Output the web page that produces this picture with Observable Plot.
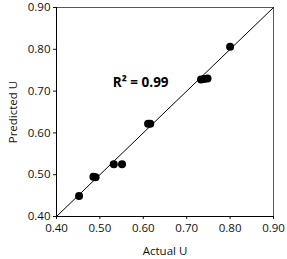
<!DOCTYPE html>
<html><head><meta charset="utf-8">
<script src="https://cdn.jsdelivr.net/npm/d3@7"></script>
<script src="https://cdn.jsdelivr.net/npm/@observablehq/plot@0.6"></script>
<style>body{margin:0;background:#fff;} svg{display:block;}</style>
</head><body><div id="chart"></div>
<script>
const actual =    [0.452, 0.485, 0.490, 0.532, 0.551, 0.611, 0.616, 0.733, 0.740, 0.748, 0.800];
const predicted = [0.449, 0.495, 0.494, 0.525, 0.525, 0.622, 0.622, 0.728, 0.729, 0.730, 0.806];
const ticks = [0.40, 0.50, 0.60, 0.70, 0.80, 0.90];
const lineEnds = [0.40, 0.90];
const annotation = "R² = 0.99";
const annX = 0.594, annY = 0.719;

const pts = actual.map((a, i) => ({a, p: predicted[i]}));
const font = "Open Sans, sans-serif";
const chart = Plot.plot({
  width: 287, height: 259,
  marginLeft: 56, marginRight: 14, marginTop: 7, marginBottom: 43,
  style: {fontFamily: font, fontSize: "11.5px", color: "#111", background: "#fff"},
  x: {domain: [0.4, 0.9]},
  y: {domain: [0.4, 0.9]},
  marks: [
    Plot.frame({stroke: "#595959", strokeWidth: 1}),
    Plot.axisX({ticks: ticks, tickFormat: d3.format(".2f"), label: "Actual U", labelAnchor: "center", labelArrow: "none", labelOffset: 38, tickSize: 3, tickPadding: 4, fontSize: 11.5}),
    Plot.axisY({ticks: ticks, tickFormat: d3.format(".2f"), label: "Predicted U", labelAnchor: "center", labelArrow: "none", labelOffset: 48, tickSize: 3, tickPadding: 3, fontSize: 11.5}),
    Plot.ruleX([0.4], {stroke: "#000"}),
    Plot.ruleY([0.4], {stroke: "#000"}),
    Plot.line(lineEnds.map(v => ({v})), {x: "v", y: "v", stroke: "#000", strokeWidth: 1}),
    Plot.dot(pts, {x: "a", y: "p", r: 4, fill: "#000", stroke: "none"}),
    Plot.text([annotation], {x: annX, y: annY, text: d => d, fontSize: 13.5, fontWeight: "bold", fill: "#000"})
  ]
});
document.getElementById("chart").append(chart);
</script></body></html>
